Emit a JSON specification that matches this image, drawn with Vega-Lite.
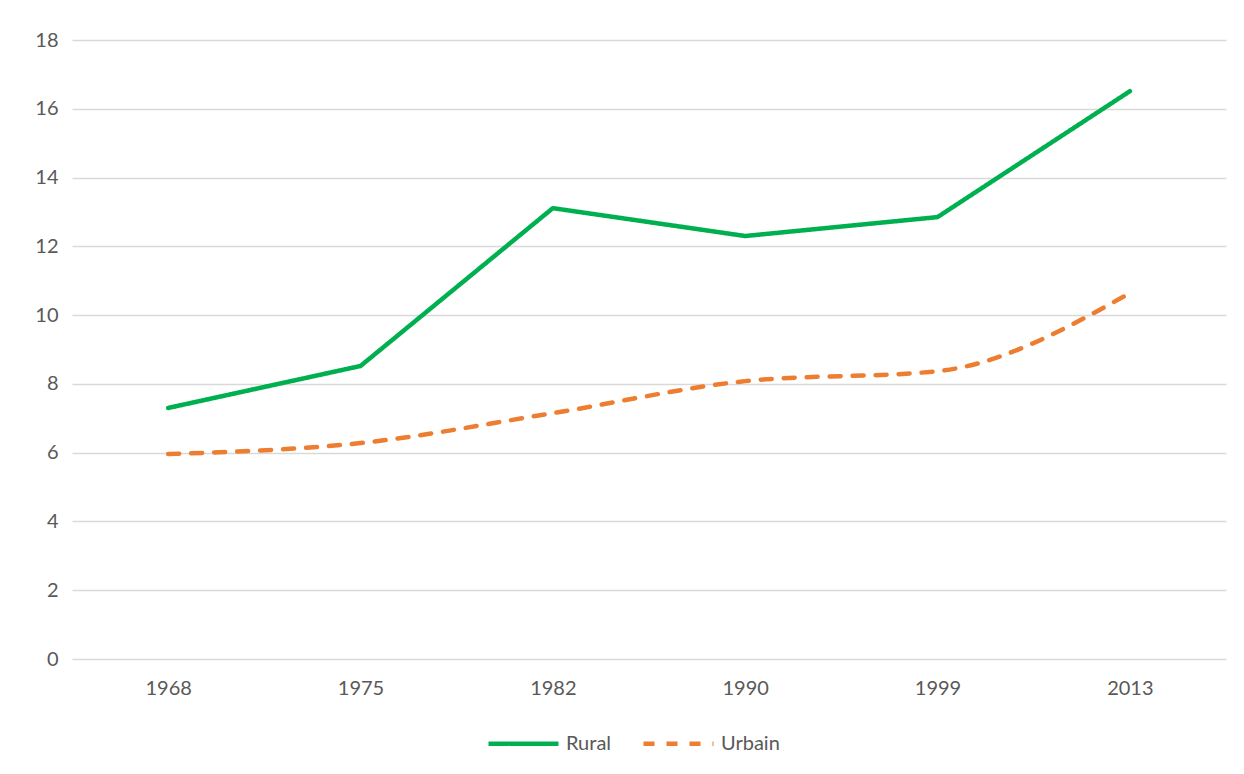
{
  "$schema": "https://vega.github.io/schema/vega-lite/v6.json",
  "autosize": "none",
  "width": 1154,
  "height": 619,
  "padding": {"left": 72, "top": 40, "right": 18, "bottom": 115},
  "background": "white",
  "config": {
    "font": "Lato",
    "view": {"stroke": null},
    "axis": {"labelFont": "Lato", "labelFontSize": 20, "labelColor": "#595959", "gridColor": "#d9d9d9", "gridWidth": 1.3, "domain": false, "ticks": false, "title": null},
    "legend": {"labelFont": "Lato", "labelFontSize": 20, "labelColor": "#595959"}
  },
  "data": {"values": [
    {"year": "1968", "series": "Rural", "value": 7.30},
    {"year": "1975", "series": "Rural", "value": 8.52},
    {"year": "1982", "series": "Rural", "value": 13.11},
    {"year": "1990", "series": "Rural", "value": 12.30},
    {"year": "1999", "series": "Rural", "value": 12.85},
    {"year": "2013", "series": "Rural", "value": 16.51},
    {"year": "1968", "series": "Urbain", "value": 5.96},
    {"year": "1975", "series": "Urbain", "value": 6.28},
    {"year": "1982", "series": "Urbain", "value": 7.15},
    {"year": "1990", "series": "Urbain", "value": 8.08},
    {"year": "1999", "series": "Urbain", "value": 8.37},
    {"year": "2013", "series": "Urbain", "value": 10.64}
  ]},
  "encoding": {
    "x": {"field": "year", "type": "ordinal", "scale": {"padding": 0.5}, "axis": {"labelAngle": 0, "labelPadding": 19, "grid": false}},
    "y": {"field": "value", "type": "quantitative", "scale": {"domain": [0, 18]}, "axis": {"values": [0,2,4,6,8,10,12,14,16,18], "labelPadding": 14, "grid": true}},
    "color": {"field": "series", "type": "nominal", "title": null, "scale": {"domain": ["Rural", "Urbain"], "range": ["#00b050", "#ed7d31"]},
      "legend": {"orient": "none", "legendX": 414, "legendY": 666, "direction": "horizontal", "symbolType": "stroke", "symbolSize": 4900, "symbolStrokeWidth": 4.5, "columnPadding": 22, "labelOffset": 5}},
    "strokeDash": {"field": "series", "type": "nominal", "title": null, "scale": {"domain": ["Rural", "Urbain"], "range": [[1, 0], [11, 12]]}}
  },
  "layer": [
    {"transform": [{"filter": "datum.series === 'Rural'"}], "mark": {"type": "line", "strokeWidth": 4.5, "strokeCap": "round", "strokeJoin": "round"}},
    {"transform": [{"filter": "datum.series === 'Urbain'"}], "mark": {"type": "line", "strokeWidth": 4.5, "strokeCap": "round", "interpolate": "monotone"}}
  ]
}
